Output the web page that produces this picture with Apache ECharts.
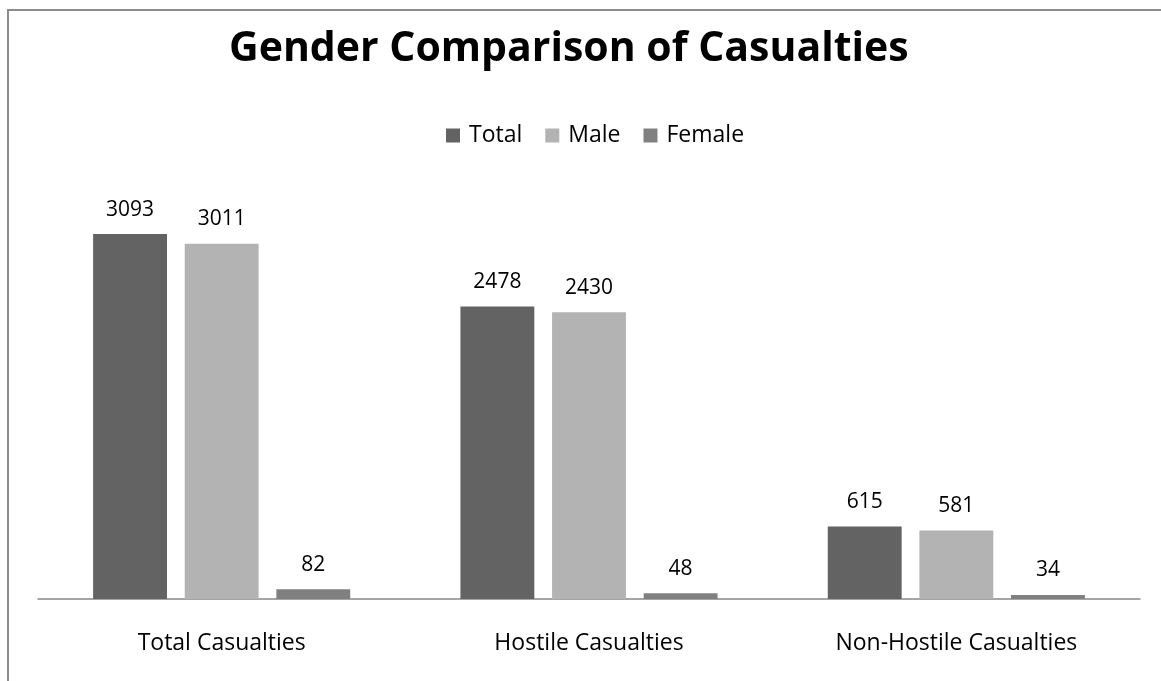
<!DOCTYPE html>
<html>
<head>
<meta charset="utf-8">
<script src="https://cdn.jsdelivr.net/npm/echarts@6/dist/echarts.min.js"></script>
<style>
  html, body { margin: 0; padding: 0; background: #fff; }
  #main { width: 1161px; height: 681px; }
</style>
</head>
<body>
<div id="main"></div>
<script>
// data
const categories = ['Total Casualties', 'Hostile Casualties', 'Non-Hostile Casualties'];
const totalValues = [3093, 2478, 615];
const maleValues = [3011, 2430, 581];
const femaleValues = [82, 48, 34];

window.onload = function () {
  let chart = echarts.init(document.getElementById('main'));
  const font = 'Open Sans, Liberation Sans, sans-serif';

  function barSeries(name, data, color) {
    return {
      name: name,
      type: 'bar',
      data: data,
      barGap: '24%',
      barCategoryGap: '30%',
      itemStyle: { color: color },
      label: {
        show: true,
        position: 'top',
        distance: 14,
        color: '#000',
        fontSize: 21,
        fontFamily: font
      }
    };
  }

  let option = {
    animation: false,
    backgroundColor: '#fff',
    title: {
      text: 'Gender Comparison of Casualties',
      left: 224,
      top: 24,
      textStyle: { fontSize: 41, fontWeight: 'bold', color: '#000', fontFamily: font }
    },
    legend: {
      top: 119,
      left: 441,
      itemWidth: 14,
      itemHeight: 14,
      itemGap: 23,
      icon: 'rect',
      textStyle: { fontSize: 23, color: '#000', fontFamily: font, padding: [0, 0, 0, 4] }
    },
    grid: { left: 38, right: 21, top: 186, bottom: 82 },
    xAxis: {
      type: 'category',
      data: categories,
      axisLine: { lineStyle: { color: '#888', width: 1.5 } },
      axisTick: { show: false },
      axisLabel: { margin: 33, fontSize: 23, color: '#000', fontFamily: font }
    },
    yAxis: {
      type: 'value',
      min: 0,
      max: 3500,
      show: false,
      splitLine: { show: false }
    },
    graphic: [{
      type: 'rect',
      shape: { x: 8, y: 10, width: 1300, height: 800 },
      style: { fill: 'none', stroke: '#8c8c8c', lineWidth: 2 },
      silent: true
    }],
    series: [
      barSeries('Total', totalValues, '#636363'),
      barSeries('Male', maleValues, '#b3b3b3'),
      barSeries('Female', femaleValues, '#808080')
    ]
  };
  chart.setOption(option);
};
</script>
</body>
</html>
